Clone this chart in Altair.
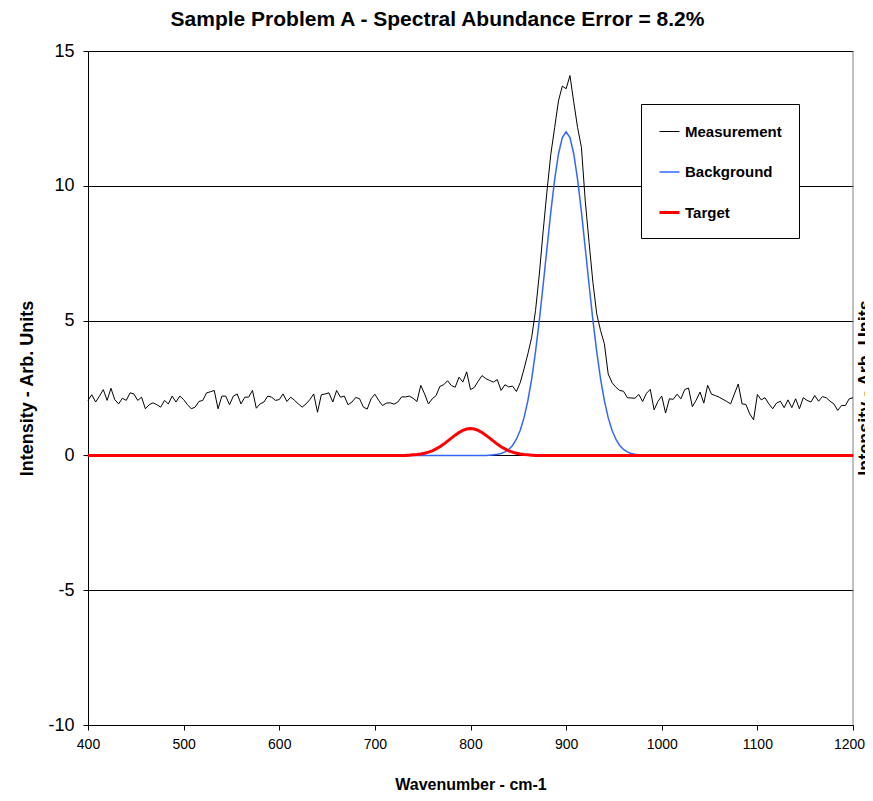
import altair as alt
import pandas as pd

TITLE = "Sample Problem A - Spectral Abundance Error = 8.2%"
X_TITLE = "Wavenumber - cm-1"
Y_TITLE = "Intensity - Arb. Units"
SERIES = ["Measurement", "Background", "Target"]
COLORS = ["#000000", "#3366FF", "#FF0000"]
WIDTHS = [1, 1.5, 3]
X_TICKS = [400, 500, 600, 700, 800, 900, 1000, 1100, 1200]
Y_TICKS = [-10, -5, 0, 5, 10, 15]

WAVENUMBER = list(range(400, 1201, 4))

MEASUREMENT = [
    2.04, 2.25, 1.98, 2.20, 2.44, 2.04, 2.49, 2.07, 1.91, 2.12,
    2.04, 2.32, 2.28, 2.04, 2.16, 1.73, 1.88, 1.95, 1.88, 1.79,
    2.04, 1.91, 2.20, 1.98, 2.20, 2.07, 1.88, 1.73, 1.79, 2.00,
    2.04, 2.32, 2.36, 2.41, 1.73, 2.20, 2.20, 1.88, 2.20, 2.28,
    1.91, 2.16, 2.16, 2.41, 1.75, 1.91, 1.98, 2.20, 2.16, 2.04,
    2.07, 2.28, 2.00, 2.16, 2.04, 1.91, 1.79, 1.91, 2.07, 2.28,
    1.60, 2.25, 2.28, 2.32, 1.98, 2.41, 2.16, 2.20, 1.88, 1.98,
    2.15, 2.10, 1.79, 1.72, 2.10, 2.27, 2.04, 1.85, 1.94, 1.95,
    1.90, 1.98, 2.17, 2.17, 2.20, 2.12, 2.00, 2.60, 2.28, 1.91,
    2.10, 2.22, 2.56, 2.62, 2.77, 2.59, 2.53, 2.90, 2.72, 3.10,
    2.44, 2.52, 2.75, 2.96, 2.85, 2.78, 2.72, 2.81, 2.41, 2.62,
    2.54, 2.57, 2.37, 2.70, 3.21, 3.77, 4.38, 5.37, 6.73, 8.33,
    9.81, 11.17, 12.16, 13.15, 13.70, 13.60, 14.09, 13.10, 12.16, 11.42,
    9.44, 7.90, 6.42, 5.25, 4.63, 4.14, 3.02, 2.70, 2.53, 2.41,
    2.38, 2.14, 2.13, 2.12, 2.26, 2.00, 2.30, 2.45, 1.69, 2.00,
    2.20, 1.57, 2.10, 2.08, 2.27, 2.10, 2.44, 2.50, 1.81, 2.05,
    2.35, 1.94, 2.60, 2.27, 2.22, 2.16, 2.08, 2.00, 1.91, 2.28,
    2.65, 1.91, 1.89, 1.54, 1.32, 2.26, 2.06, 2.14, 1.91, 1.73,
    1.94, 2.01, 1.77, 2.06, 1.77, 2.10, 1.73, 2.14, 2.04, 1.98,
    2.22, 2.01, 2.18, 2.14, 2.01, 1.91, 1.67, 1.85, 1.85, 2.10,
    2.14,
]

BACKGROUND = [
    0, 0, 0, 0, 0, 0, 0, 0, 0, 0, 0, 0, 0, 0, 0, 0, 0, 0, 0, 0,
    0, 0, 0, 0, 0, 0, 0, 0, 0, 0, 0, 0, 0, 0, 0, 0, 0, 0, 0, 0,
    0, 0, 0, 0, 0, 0, 0, 0, 0, 0, 0, 0, 0, 0, 0, 0, 0, 0, 0, 0,
    0, 0, 0, 0, 0, 0, 0, 0, 0, 0, 0, 0, 0, 0, 0, 0, 0, 0, 0, 0,
    0, 0, 0, 0, 0, 0, 0, 0, 0, 0, 0, 0, 0, 0, 0, 0, 0, 0, 0, 0,
    0, 0, 0, 0, 0,
    0.01, 0.02, 0.04, 0.07, 0.13, 0.22, 0.37, 0.60, 0.93, 1.40,
    2.03, 2.84, 3.85, 5.02, 6.33, 7.69, 9.03, 10.23, 11.18, 11.79,
    12.00, 11.79, 11.18, 10.23, 9.03, 7.69, 6.33, 5.02, 3.85, 2.84,
    2.03, 1.40, 0.93, 0.60, 0.37, 0.22, 0.13, 0.07, 0.04, 0.02,
    0.01,
    0, 0, 0, 0, 0, 0, 0, 0, 0, 0, 0, 0, 0, 0, 0, 0, 0, 0, 0, 0,
    0, 0, 0, 0, 0, 0, 0, 0, 0, 0, 0, 0, 0, 0, 0, 0, 0, 0, 0, 0,
    0, 0, 0, 0, 0, 0, 0, 0, 0, 0, 0, 0, 0, 0, 0,
]

TARGET = [
    0, 0, 0, 0, 0, 0, 0, 0, 0, 0, 0, 0, 0, 0, 0, 0, 0, 0, 0, 0,
    0, 0, 0, 0, 0, 0, 0, 0, 0, 0, 0, 0, 0, 0, 0, 0, 0, 0, 0, 0,
    0, 0, 0, 0, 0, 0, 0, 0, 0, 0, 0, 0, 0, 0, 0, 0, 0, 0, 0, 0,
    0, 0, 0, 0, 0, 0, 0, 0, 0, 0, 0, 0, 0, 0, 0, 0, 0, 0, 0, 0,
    0, 0, 0, 0,
    0.01, 0.02, 0.03, 0.05, 0.08, 0.12, 0.17, 0.24, 0.32, 0.42,
    0.53, 0.64, 0.75, 0.85, 0.93, 0.98, 1.00, 0.98, 0.93, 0.85,
    0.75, 0.64, 0.53, 0.42, 0.32, 0.24, 0.17, 0.12, 0.08, 0.05,
    0.03, 0.02, 0.01,
    0, 0, 0, 0, 0, 0, 0, 0, 0, 0, 0, 0, 0, 0, 0, 0, 0, 0, 0, 0,
    0, 0, 0, 0, 0, 0, 0, 0, 0, 0, 0, 0, 0, 0, 0, 0, 0, 0, 0, 0,
    0, 0, 0, 0, 0, 0, 0, 0, 0, 0, 0, 0, 0, 0, 0, 0, 0, 0, 0, 0,
    0, 0, 0, 0, 0, 0, 0, 0, 0, 0, 0, 0, 0, 0, 0, 0, 0, 0, 0, 0,
    0, 0, 0, 0,
]

FONT = "Liberation Sans, Arial, sans-serif"

rows = []
for name, vals in zip(SERIES, [MEASUREMENT, BACKGROUND, TARGET]):
    for w, v in zip(WAVENUMBER, vals):
        rows.append({"wavenumber": w, "value": v, "series": name})
df = pd.DataFrame(rows)

x_enc = alt.X(
    "wavenumber:Q",
    scale=alt.Scale(domain=[400, 1200], nice=False, zero=False),
    axis=alt.Axis(
        values=X_TICKS, title=X_TITLE, grid=False, tickSize=5,
        labelExpr="'' + datum.value",
        labelOffset={"condition": {"test": "datum.value == 1200", "value": -4}, "value": 0},
        labelFont=FONT, labelFontSize=14, labelPadding=7, labelColor="black",
        titleFont=FONT, titleFontSize=16, titleFontWeight="bold",
        titlePadding=25, titleColor="black",
        domainColor="black", tickColor="black", labelFlush=False,
    ),
)
y_enc = alt.Y(
    "value:Q",
    scale=alt.Scale(domain=[-10, 15], nice=False, zero=False),
    axis=alt.Axis(
        values=Y_TICKS, title=Y_TITLE, grid=True, gridColor="black",
        gridWidth=1, tickSize=5, labelExpr="'' + datum.value",
        labelFont=FONT, labelFontSize=18,
        labelPadding=9, labelColor="black",
        titleFont=FONT, titleFontSize=18, titleFontWeight="bold",
        titlePadding=11, titleColor="black",
        domainColor="black", tickColor="black",
    ),
)
legend_kw = dict(
    title=None, orient="none", legendX=553, legendY=53,
    symbolType="stroke", symbolSize=400,
    labelFont=FONT, labelFontSize=15, labelFontWeight="bold",
    labelColor="black", labelOffset=4, rowPadding=21, padding=17,
    strokeColor="black", fillColor="white", cornerRadius=0,
)
color_enc = alt.Color(
    "series:N",
    scale=alt.Scale(domain=SERIES, range=COLORS),
    legend=alt.Legend(**legend_kw),
)
sw_enc = alt.StrokeWidth(
    "series:N",
    scale=alt.Scale(type="ordinal", domain=SERIES, range=WIDTHS),
    legend=alt.Legend(**legend_kw),
)

base = alt.Chart(df).encode(x=x_enc, y=y_enc, color=color_enc, strokeWidth=sw_enc)

layers = []
for name in SERIES:
    layers.append(
        base.transform_filter(alt.datum.series == name).mark_line(interpolate="linear")
    )

right_edge = alt.Chart(pd.DataFrame({"x": [1200]})).mark_rule(
    color="#808080", strokeWidth=1
).encode(x=alt.X("x:Q"), y=alt.value(0), y2=alt.value(674))

right_title = alt.Chart(pd.DataFrame({"t": [Y_TITLE]})).mark_text(
    angle=270, baseline="top", align="center", font=FONT,
    fontSize=18, fontWeight="bold", color="black",
).encode(x=alt.value(769), y=alt.value(337), text="t:N")

chart = alt.layer(right_edge, *layers, right_title).properties(
    width=765,
    height=674,
    padding={"left": 80, "top": 43, "right": 12, "bottom": 68},
    autosize=alt.AutoSizeParams(type="none"),
    background="white",
    title=alt.TitleParams(
        text=TITLE, font=FONT, fontSize=21, fontWeight="bold",
        color="black", anchor="middle", dx=-33, offset=12,
    ),
).configure_view(strokeWidth=0)

chart.save("out.html", embed_options={"renderer": "svg", "actions": False})
